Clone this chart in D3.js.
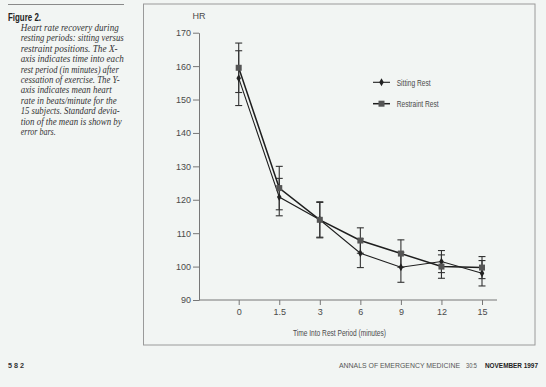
<!DOCTYPE html>
<html><head><meta charset="utf-8">
<script src="https://cdn.jsdelivr.net/npm/d3@7/dist/d3.min.js"></script>
<style>
html,body{margin:0;padding:0;background:#f2f5f3;}
svg{display:block;}
</style></head>
<body>
<script>
const categories = ["0","1.5","3","6","9","12","15"];
const sittingMean = [156.4,120.8,114.0,104.0,99.8,101.5,98.0];
const sittingSD   = [8.2,5.6,5.2,4.3,4.5,3.3,3.8];
const restraintMean = [159.5,123.5,114.0,107.8,103.9,100.0,99.7];
const restraintSD   = [7.4,6.5,5.4,3.8,4.1,3.5,3.3];
const yTicks = [90,100,110,120,130,140,150,160,170];
const seriesNames = ["Sitting Rest","Restraint Rest"];
const captionLines = ["Heart rate recovery during","resting periods: sitting versus","restraint positions. The X-","axis indicates time into each","rest period (in minutes) after","cessation of exercise. The Y-","axis indicates mean heart","rate in beats/minute for the","15 subjects. Standard devia-","tion of the mean is shown by","error bars."];
const captionWidths = [98,103,97,103,98,99,91,96,99,101,35];

const W=546,H=387;
const svg=d3.select("body").append("svg").attr("width",W).attr("height",H);
svg.append("rect").attr("width",W).attr("height",H).attr("fill","#f2f5f3");

const narrow = "'Liberation Sans Narrow','Arial Narrow','Liberation Sans',sans-serif";
const gray="#4a4a4a";

// top rule & caption
svg.append("line").attr("x1",8).attr("x2",124).attr("y1",4.5).attr("y2",4.5).attr("stroke","#8a8a8a").attr("stroke-width",1);
svg.append("text").attr("x",8).attr("y",21).attr("font-family",narrow).attr("font-weight","bold").attr("font-size",10.5)
  .attr("fill","#222").attr("textLength",33).attr("lengthAdjust","spacingAndGlyphs").text("Figure 2.");
svg.selectAll("text.cap").data(captionLines).enter().append("text").attr("class","cap")
  .attr("x",20.7).attr("y",(d,i)=>31+i*10.4)
  .attr("font-family","'Liberation Serif','DejaVu Serif',serif").attr("font-style","italic").attr("font-size",10)
  .attr("fill","#333").attr("textLength",(d,i)=>captionWidths[i]).attr("lengthAdjust","spacingAndGlyphs").text(d=>d);

// frame
svg.append("rect").attr("x",143.5).attr("y",4).attr("width",391.5).attr("height",341).attr("fill","none").attr("stroke","#9a9a9a").attr("stroke-width",1);

// scales
const x=d3.scaleLinear().domain([0,categories.length-1]).range([238.7,482]);
const y=d3.scaleLinear().domain([90,170]).range([300,32.7]);

// y axis
const gy=svg.append("g").attr("transform","translate(199,0)")
  .call(d3.axisLeft(y).tickValues(yTicks).tickSize(6).tickSizeOuter(0).tickPadding(2));
gy.select(".domain").attr("stroke","#777");
gy.selectAll(".tick line").attr("stroke","#777");
gy.selectAll(".tick text").attr("font-family",narrow).attr("font-size",9).attr("fill",gray);

// x axis
const gx=svg.append("g").attr("transform","translate(0,300)")
  .call(d3.axisBottom(x).tickValues(d3.range(categories.length)).tickFormat(i=>categories[i]).tickSize(5).tickPadding(4));
gx.select(".domain").remove();
gx.selectAll(".tick line").attr("stroke","#777");
gx.selectAll(".tick text").attr("font-family",narrow).attr("font-size",9).attr("fill",gray);
svg.append("line").attr("x1",199).attr("x2",497).attr("y1",300).attr("y2",300).attr("stroke","#777");

svg.append("text").attr("x",199).attr("y",19).attr("text-anchor","middle").attr("font-family",narrow).attr("font-size",9).attr("fill",gray).text("HR");
svg.append("text").attr("x",339.5).attr("y",336).attr("text-anchor","middle").attr("font-family",narrow).attr("font-size",9)
  .attr("fill",gray).attr("textLength",93).attr("lengthAdjust","spacingAndGlyphs").text("Time Into Rest Period (minutes)");

const series=[
  {name:seriesNames[0],mean:sittingMean,sd:sittingSD,marker:"diamond",color:"#1e1e1e",mcolor:"#222",lw:1.1},
  {name:seriesNames[1],mean:restraintMean,sd:restraintSD,marker:"square",color:"#1e1e1e",mcolor:"#555",lw:1.5}
];
const line=d3.line().x((d,i)=>x(i)).y(d=>y(d));

series.forEach(s=>{
  const g=svg.append("g");
  s.mean.forEach((m,i)=>{
    const cx=x(i), yt=y(m+s.sd[i]), yb=y(m-s.sd[i]);
    g.append("line").attr("x1",cx).attr("x2",cx).attr("y1",yt).attr("y2",yb).attr("stroke","#333").attr("stroke-width",1.1);
    [yt,yb].forEach(yy=>g.append("line").attr("x1",cx-3.5).attr("x2",cx+3.5).attr("y1",yy).attr("y2",yy).attr("stroke","#333").attr("stroke-width",1.1));
  });
});
series.forEach(s=>{
  svg.append("path").datum(s.mean).attr("d",line).attr("fill","none").attr("stroke",s.color).attr("stroke-width",s.lw);
});
function marker(g,type,cx,cy,col){
  if(type==="square") g.append("rect").attr("x",cx-3).attr("y",cy-3).attr("width",6).attr("height",6).attr("fill",col);
  else g.append("path").attr("d",d3.symbol(d3.symbolDiamond,18)()).attr("transform",`translate(${cx},${cy})`).attr("fill",col);
}
series.forEach(s=>{
  const g=svg.append("g");
  s.mean.forEach((m,i)=>marker(g,s.marker,x(i),y(m),s.mcolor));
});

// legend
const legY=[82.3,103.7];
series.forEach((s,k)=>{
  const g=svg.append("g");
  g.append("line").attr("x1",373).attr("x2",390).attr("y1",legY[k]).attr("y2",legY[k]).attr("stroke",s.color).attr("stroke-width",s.lw);
  marker(g,s.marker,381.5,legY[k],s.mcolor);
  g.append("text").attr("x",396.7).attr("y",legY[k]+3.2).attr("font-family",narrow).attr("font-size",9).attr("fill",gray)
    .attr("textLength",k===0?34:42).attr("lengthAdjust","spacingAndGlyphs").text(s.name);
});

// footer
svg.append("text").attr("x",8).attr("y",368).attr("font-family",narrow).attr("font-weight","bold").attr("font-size",7).attr("fill","#333")
  .attr("textLength",16).attr("lengthAdjust","spacingAndGlyphs").text("5 8 2");
svg.append("text").attr("x",339).attr("y",368).attr("font-family",narrow).attr("font-size",6.8).attr("fill","#555")
  .attr("textLength",121).attr("lengthAdjust","spacingAndGlyphs").text("ANNALS OF EMERGENCY MEDICINE");
svg.append("text").attr("x",466).attr("y",368).attr("font-family",narrow).attr("font-size",6.8).attr("fill","#555")
  .attr("textLength",11).attr("lengthAdjust","spacingAndGlyphs").text("30:5");
svg.append("text").attr("x",485).attr("y",368).attr("font-family",narrow).attr("font-weight","bold").attr("font-size",6.8).attr("fill","#222")
  .attr("textLength",53).attr("lengthAdjust","spacingAndGlyphs").text("NOVEMBER 1997");
</script>
</body></html>
